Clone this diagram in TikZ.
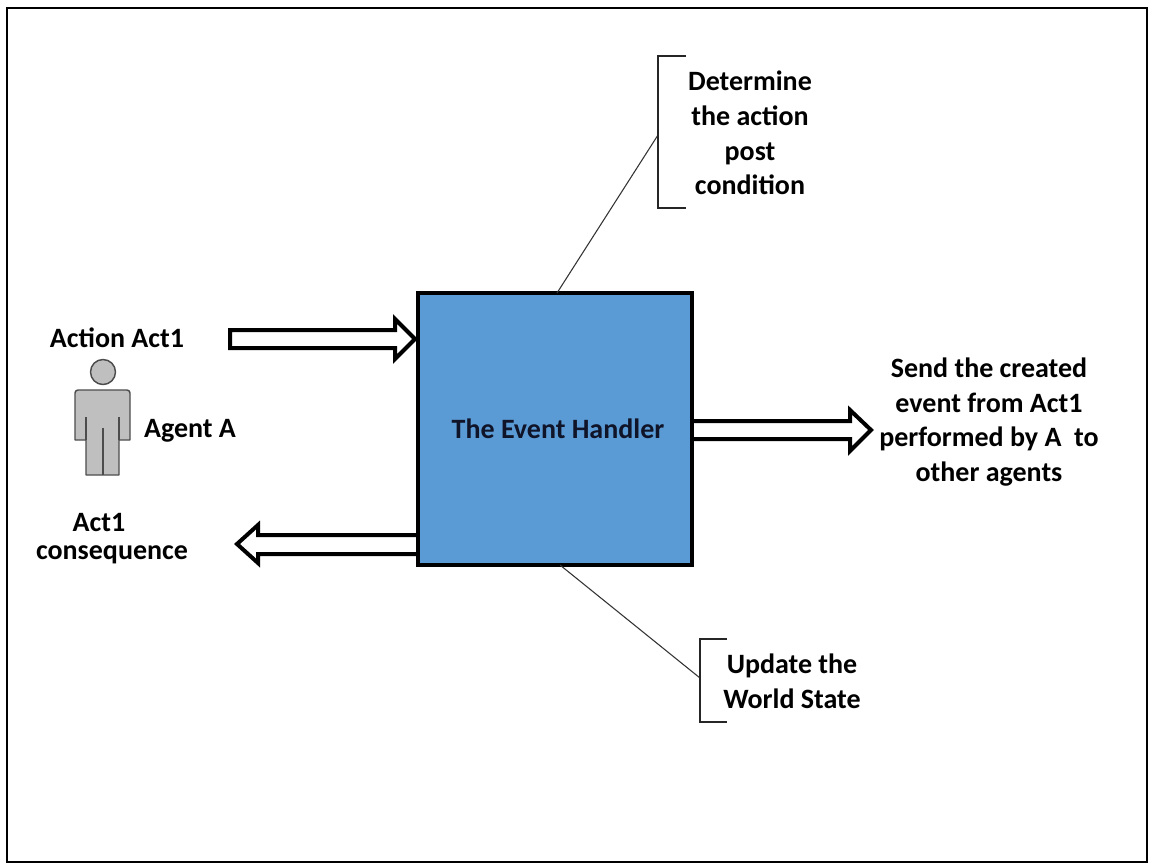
\documentclass[tikz,border=0pt]{standalone}
\usepackage{fontspec}
\setmainfont{Carlito}
\definecolor{ehblue}{RGB}{91,155,213}
\definecolor{ehtext}{RGB}{15,20,40}
\begin{document}
\begin{tikzpicture}[x=0.75pt,y=-0.75pt,
  lbl/.style={font=\bfseries\fontsize{21}{26}\selectfont, align=center, inner sep=0pt},
  blockarrow/.style={draw=black, fill=white, line width=3pt, line join=miter},
  callout/.style={draw=black!80, line width=0.8pt},
  bracket/.style={draw=black!85, line width=1.3pt},
  person/.style={draw=black!70, fill=black!25, line width=1.1pt, line join=round}]
\useasboundingbox (0,0) rectangle (1149,865);
\draw[line width=1.6pt] (7,8) rectangle (1147,862);

% block arrows (drawn before the box)
\draw[blockarrow] (230,330) -- (395,330) -- (395,319) -- (415,339) -- (395,359) -- (395,348) -- (230,348) -- cycle;
\draw[blockarrow] (692,421) -- (850,421) -- (850,410) -- (871,430) -- (850,451) -- (850,439) -- (692,439);
\draw[blockarrow] (418,535) -- (258,535) -- (258,525) -- (237,544) -- (258,563) -- (258,554) -- (418,554);

% event handler box
\node[draw=black, fill=ehblue, line width=3.2pt,
      minimum width=205.5pt, minimum height=204pt, inner sep=0pt, outer sep=0pt,
      font=\bfseries\fontsize{21}{26}\selectfont, text=ehtext] (eh) at (555,429) {\hspace*{4.5pt}The Event Handler};

% callouts
\coordinate (c1) at (658,135);
\coordinate (b1) at (557,293);
\draw[callout] (b1) -- (c1);
\draw[bracket] (686,56) -- (658,56) -- (658,208) -- (686,208);
\node[lbl] (det) at (750,133) {Determine\\the action\\post\\condition};

\coordinate (c2) at (700,678);
\coordinate (b2) at (560,565);
\draw[callout] (b2) -- (c2);
\draw[bracket] (727,639) -- (700,639) -- (700,722) -- (727,722);
\node[lbl] (upd) at (792,681) {Update the\\World State};

% texts
\node[lbl] (act) at (117,338) {Action Act1};
\node[lbl] (agent) at (190,431) {Agent A};
\node[lbl] (act1) at (99,522) {Act1};
\node[lbl] (cons) at (112,555) {consequence};
\node[lbl] (send) at (989,422) {Send the created\\event from Act1\\performed by A\ \ to\\other agents};

% person
\draw[person] (103,372) circle (12.5);
\draw[person] (78,390) -- (127,390) to[out=0,in=90] (130,393) -- (130,440) -- (119,440) -- (119,475) -- (86,475) -- (86,440) -- (75,440) -- (75,393) to[out=90,in=180] (78,390) -- cycle;
\draw[person] (86,417) -- (86,440);
\draw[person] (119,417) -- (119,440);
\draw[person] (103,428) -- (103,475);
\end{tikzpicture}
\end{document}
